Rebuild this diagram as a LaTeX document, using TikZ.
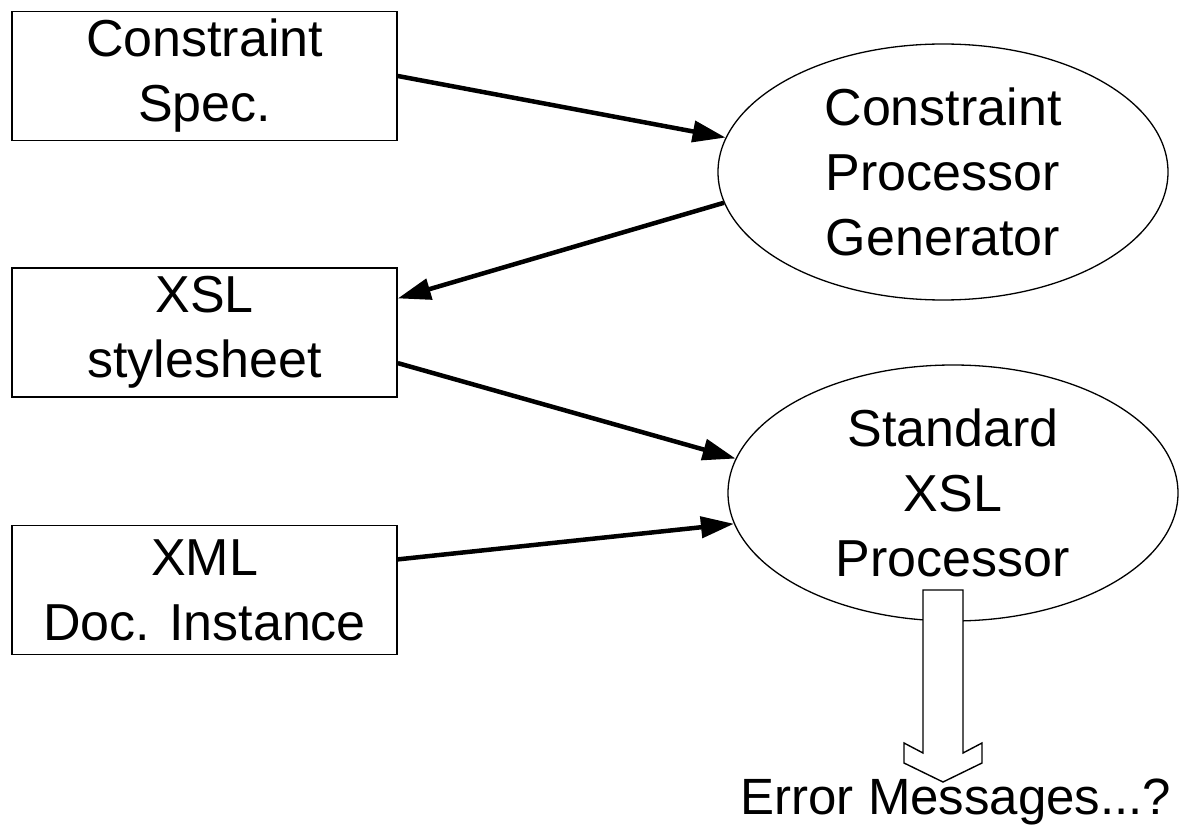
\documentclass[tikz,border=0pt]{standalone}
\usepackage{fontspec}
\setmainfont{Liberation Sans}
\usetikzlibrary{shapes.geometric,arrows.meta}
\begin{document}
\begin{tikzpicture}[x=1pt,y=-1pt,
  lbl/.style={font=\fontsize{52}{65}\selectfont, align=center, inner sep=0pt},
  box/.style={lbl, draw, line width=1.6pt, minimum width=385pt, minimum height=129pt},
  proc/.style={lbl, ellipse, draw, line width=1.3pt, minimum width=450pt, minimum height=256pt},
  flow/.style={line width=4.5pt, -{Triangle[length=33pt,width=21pt]}},
  fat/.style={draw, fill=white, line width=1.4pt, line join=miter}]
\useasboundingbox (0,0) rectangle (1179,826);

% inputs on the left
\node[box] (spec) at (204.5,76)  {Constraint\\Spec.};
\node[box] (xsl)  at (204.5,332.5) {XSL\\stylesheet};
\node[box] (xml)  at (204.5,590) {XML\\Doc. Instance};

% processors on the right
\node[proc] (gen) at (943,172) {Constraint\\Processor\\Generator};
\node[proc] (std) at (953,493) {Standard\\XSL\\Processor};

% data flow
\draw[flow] (spec.east) -- (gen.171.5);
\draw[flow] (gen.188.5) -- (xsl.10.2);
\draw[flow] (xsl.-9.6) -- (std.171.5);
\draw[flow] (xml.9.7) -- (std.188.5);

% hollow block arrow to the output
\coordinate (out) at (943,590);
\begin{scope}[shift={(out)}]
\draw[fat] (-20,0) -- (-20,163) -- (-39,153) -- (-39,173) -- (0,192)
  -- (39,173) -- (39,153) -- (20,163) -- (20,0) -- cycle;
\end{scope}
\node[lbl, font=\fontsize{51}{60}\selectfont, anchor=base] (err) at (956,814) {Error Messages...?};
\end{tikzpicture}
\end{document}
